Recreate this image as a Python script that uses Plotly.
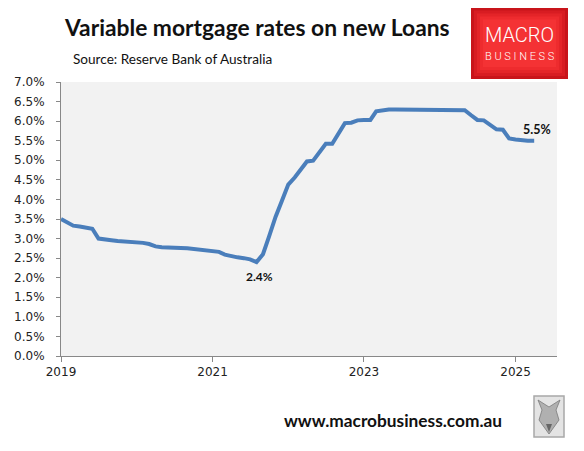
import plotly.graph_objects as go
import pandas as pd

# ---- data ----
rates = [
    3.50, 3.42, 3.33, 3.31, 3.28, 3.25, 3.00, 2.97, 2.96, 2.94, 2.93, 2.92,   # 2019
    2.91, 2.89, 2.86, 2.80, 2.78, 2.78, 2.78, 2.76, 2.75, 2.73, 2.72, 2.70,   # 2020
    2.69, 2.66, 2.59, 2.55, 2.52, 2.50, 2.47, 2.40, 2.60, 3.06, 3.56, 3.96,   # 2021
    4.38, 4.56, 4.76, 4.97, 4.99, 5.22, 5.42, 5.42, 5.68, 5.95, 5.96, 6.02,   # 2022
    6.03, 6.03, 6.25, 6.28, 6.30, 6.30, 6.30, 6.30, 6.30, 6.30, 6.30, 6.30,   # 2023
    6.30, 6.28, 6.28, 6.28, 6.28, 6.15, 6.03, 6.02, 5.90, 5.79, 5.78, 5.56,   # 2024
    5.53, 5.51, 5.50, 5.50,                                                   # 2025
]
months = pd.date_range("2019-01-01", periods=len(rates), freq="MS")

title = "Variable mortgage rates on new Loans"
source = "Source: Reserve Bank of Australia"
website = "www.macrobusiness.com.au"
low_label = "2.4%"
last_label = "5.5%"
low_date = "2021-08-01"
low_value = 2.40

# ---- layout geometry (window pixels) ----
OFF = 8                      # default body margin of the html page
W, H = 584 - OFF, 451 - OFF  # figure size
L, R, T, B = 61, 557, 82, 356  # plot area in window pixels


def px(x):
    return (x - L) / (R - L)


def py(y):
    return (B - y) / (B - T)


fig = go.Figure()
fig.add_trace(go.Scatter(
    x=months, y=rates, mode="lines",
    line=dict(color="#4A7EBB", width=4),
    hoverinfo="skip", showlegend=False,
))

axis_col = "#888888"
fig.update_layout(
    width=W, height=H,
    margin=dict(l=L - OFF, r=584 - R, t=T - OFF, b=451 - B, pad=0, autoexpand=False),
    paper_bgcolor="white",
    plot_bgcolor="#F2F2F2",
    xaxis=dict(
        type="date",
        range=["2019-01-01", "2025-07-20"],
        tick0="2019-01-01", dtick="M24", tickformat="%Y",
        showgrid=False, zeroline=False,
        showline=True, linecolor=axis_col, linewidth=1,
        ticks="outside", ticklen=5, tickcolor=axis_col,
        tickfont=dict(family="DejaVu Sans", size=12, color="#222222"),
    ),
    yaxis=dict(
        range=[0, 7], dtick=0.5, tickformat=".1f", ticksuffix="%",
        showgrid=False, zeroline=False,
        showline=True, linecolor=axis_col, linewidth=1,
        ticks="outside", ticklen=4, tickcolor=axis_col,
        ticklabelstandoff=9,
        tickfont=dict(family="DejaVu Sans", size=12, color="#222222"),
    ),
)

ann = []
ann.append(dict(x=px(62), y=py(27), xref="paper", yref="paper", text=title,
                showarrow=False, xanchor="left", yanchor="middle",
                font=dict(family="Lato", size=22.8, color="#111111", weight="bold")))
ann.append(dict(x=px(71), y=py(59), xref="paper", yref="paper", text=source,
                showarrow=False, xanchor="left", yanchor="middle",
                font=dict(family="Lato", size=13.6, color="#111111")))
ann.append(dict(x=low_date, y=low_value, xref="x", yref="y", text=low_label,
                showarrow=False, xanchor="center", yanchor="middle",
                xshift=3, yshift=-14,
                font=dict(family="Lato", size=12, color="#111111", weight="bold")))
ann.append(dict(x=months[-1], y=rates[-1], xref="x", yref="y", text=last_label,
                showarrow=False, xanchor="center", yanchor="middle",
                xshift=3, yshift=11,
                font=dict(family="Lato", size=12.5, color="#111111", weight="bold")))
ann.append(dict(x=px(282), y=py(421), xref="paper", yref="paper", text=website,
                showarrow=False, xanchor="left", yanchor="middle",
                font=dict(family="Lato", size=17.3, color="#111111", weight="bold")))
ann.append(dict(x=px(519.5), y=py(35), xref="paper", yref="paper", text="MACRO",
                showarrow=False, xanchor="center", yanchor="middle",
                font=dict(family="Roboto", size=20, color="white", weight=300)))
ann.append(dict(x=px(519.5), y=py(57), xref="paper", yref="paper",
                text="B U S I N E S S",
                showarrow=False, xanchor="center", yanchor="middle",
                font=dict(family="Roboto", size=11, color="white", weight=300)))

shapes = []
# logo: layered rects to fake the red gradient
reds = ["#C8141A", "#D81C22", "#E42428", "#EE2B2E", "#F43234"]
for i, c in enumerate(reds):
    d = i * 3
    shapes.append(dict(type="rect", xref="paper", yref="paper",
                       x0=px(471 + d), x1=px(568 - d), y0=py(79 - d), y1=py(7.5 + d),
                       fillcolor=c, line=dict(width=0), layer="below"))
# wolf picture placeholder (grey framed sketch)
shapes.append(dict(type="rect", xref="paper", yref="paper",
                   x0=px(534), x1=px(564), y0=py(437), y1=py(396),
                   fillcolor="#E4E4E4", line=dict(color="#A8A8A8", width=1.5)))
shapes.append(dict(type="path", xref="paper", yref="paper",
                   path=f"M {px(538)} {py(400)} L {px(542)} {py(410)} L {px(539)} {py(420)} "
                        f"L {px(549)} {py(434)} L {px(559)} {py(420)} L {px(556)} {py(410)} "
                        f"L {px(560)} {py(400)} L {px(549)} {py(407)} Z",
                   fillcolor="#B0B0B0", line=dict(color="#7A7A7A", width=0.8)))
shapes.append(dict(type="path", xref="paper", yref="paper",
                   path=f"M {px(546)} {py(424)} L {px(549)} {py(432)} L {px(552)} {py(424)} Z",
                   fillcolor="#666666", line=dict(width=0)))

fig.update_layout(annotations=ann, shapes=shapes)
fig.write_html("out.html")
